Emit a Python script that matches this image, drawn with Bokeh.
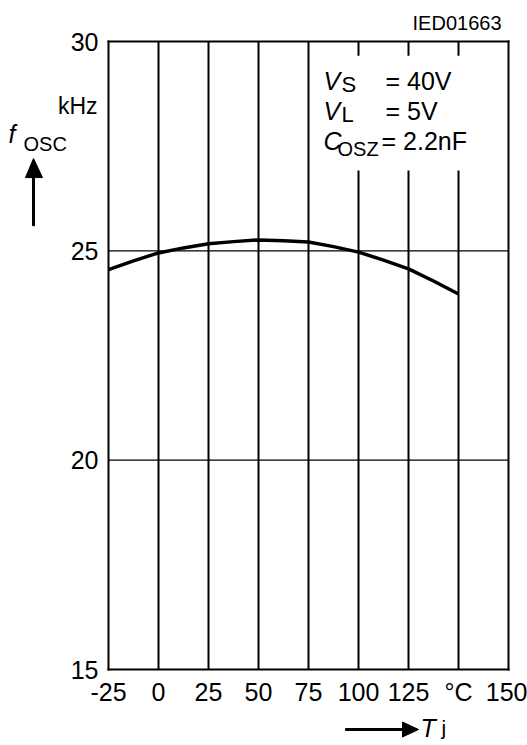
from bokeh.plotting import figure
from bokeh.models import Label, PolyAnnotation, FixedTicker, LinearAxis
from bokeh.embed import file_html
from bokeh.resources import INLINE

# data
temps = [-25, -12.5, 0, 12.5, 25, 37.5, 50, 62.5, 75, 87.5, 100, 112.5, 125, 137.5, 150]
fosc = [24.55, 24.76, 24.95, 25.07, 25.17, 25.22, 25.26, 25.24, 25.21, 25.10, 24.97, 24.78, 24.57, 24.28, 23.97]
x_ticks = [-25, 0, 25, 50, 75, 100, 125, 150, 175]
x_tick_labels = ["-25", "0", "25", "50", "75", "100", "125", "°C", "150"]
y_ticks = [15, 20, 25, 30]

FONT = "Liberation Sans"

# canvas geometry: chart box spans x -25..175, y 15..30
W, H = 527, 745
BOX_L, BOX_R, BOX_T, BOX_B = 108, 508, 41, 669
XMIN, XMAX, YMIN, YMAX = x_ticks[0], x_ticks[-1], y_ticks[0], y_ticks[-1]
XS = (BOX_R - BOX_L) / (XMAX - XMIN)   # px per unit
YS = (BOX_B - BOX_T) / (YMAX - YMIN)
x0 = XMIN - BOX_L / XS
x1 = XMAX + (W - BOX_R) / XS
y0 = YMIN - (H - BOX_B) / YS
y1 = YMAX + BOX_T / YS

p = figure(width=W, height=H, x_range=(x0, x1), y_range=(y0, y1),
           output_backend="svg", toolbar_location=None,
           x_axis_location=None, y_axis_location=None, min_border=0)
p.background_fill_color = "white"
p.border_fill_color = "white"
p.outline_line_color = None
p.xgrid.visible = False
p.ygrid.visible = False

xaxis = LinearAxis(fixed_location=YMIN, ticker=FixedTicker(ticks=x_ticks),
                   major_label_overrides={t: l for t, l in zip(x_ticks, x_tick_labels)})
yaxis = LinearAxis(fixed_location=XMIN, ticker=FixedTicker(ticks=y_ticks))
for ax in (xaxis, yaxis):
    ax.axis_line_color = None
    ax.major_tick_line_color = None
    ax.minor_tick_line_color = None
    ax.major_tick_out = 0
    ax.major_tick_in = 0
    ax.major_label_text_font = FONT
    ax.major_label_text_font_size = "25px"
    ax.major_label_text_color = "black"
xaxis.major_label_standoff = 8
yaxis.major_label_standoff = 10
p.add_layout(xaxis, "below")
p.add_layout(yaxis, "left")

# grid lines and chart box, from the tick arrays
inner_x = x_ticks[1:-1]
p.segment(x0=inner_x, y0=[YMIN] * len(inner_x), x1=inner_x, y1=[YMAX] * len(inner_x),
          line_color="black", line_width=2)
inner_y = y_ticks[1:-1]
p.segment(x0=[XMIN] * len(inner_y), y0=inner_y, x1=[XMAX] * len(inner_y), y1=inner_y,
          line_color="black", line_width=1.3)

# white box behind parameter text (covers grid lines)
p.quad(left=[76], right=[171], bottom=[26.92], top=[29.66], fill_color="white", line_color=None)

# frame
p.segment(x0=[XMIN, XMAX, XMIN, XMIN], y0=[YMIN, YMIN, YMIN, YMAX],
          x1=[XMIN, XMAX, XMAX, XMAX], y1=[YMAX, YMAX, YMIN, YMAX],
          line_color="black", line_width=2, line_cap="square")

p.line(temps, fosc, line_color="black", line_width=3.5)

def lab(x, y, t, size="25px", style="normal", align="left"):
    p.add_layout(Label(x=x, y=y, text=t, text_font=FONT, text_font_size=size,
                       text_font_style=style, text_align=align, y_offset=8,
                       text_baseline="alphabetic", text_color="black"))

def poly(xs, ys):
    p.add_layout(PolyAnnotation(xs=xs, ys=ys, fill_color="black", fill_alpha=1,
                                line_color="black", line_width=1, line_alpha=1))

# parameters
lab(82.5, 28.877, "V", style="italic")
lab(91.5, 28.78, "S", size="22px")
lab(113.5, 28.877, "= 40V")
lab(82.5, 28.16, "V", style="italic")
lab(91.5, 28.065, "L", size="22px")
lab(113.5, 28.16, "= 5V")
lab(82.5, 27.444, "C", style="italic")
lab(89.5, 27.23, "OSZ", size="20px")
lab(111.5, 27.444, "= 2.2nF")

# id
lab(171.5, 30.26, "IED01663", size="20px", align="right")

# y axis label
lab(-30.5, 28.28, "kHz", size="23px", align="right")
lab(-75, 27.59, "f", style="italic")
lab(-67.5, 27.37, "OSC", size="20px")

# x axis label
lab(131, 13.40, "T", style="italic")
lab(141.5, 13.42, "j", size="21px")

# arrows
poly([-63, -62, -62, -63], [25.6, 25.6, 26.8, 26.8])
poly([-66.5, -58, -62.5], [26.75, 26.75, 27.205])
poly([93.5, 122.5, 122.5, 93.5], [13.591, 13.591, 13.543, 13.543])
poly([122, 122, 130], [13.746, 13.388, 13.567])

open("out.html", "w").write(file_html(p, INLINE))
